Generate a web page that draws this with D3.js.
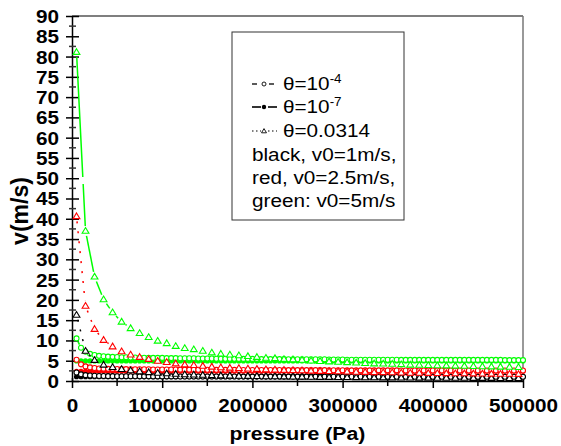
<!DOCTYPE html>
<html>
<head>
<meta charset="utf-8">
<script src="https://cdnjs.cloudflare.com/ajax/libs/d3/7.8.5/d3.min.js"></script>
<style>
  body { margin: 0; background: #fff; }
  svg { display: block; }
</style>
</head>
<body>
<svg id="chart"></svg>
<script>
// ---- data ----
// pressure grid in kPa for the circle / dot series
const pressureKPa = [5,10,15,20,25,30,35,40,45,50,55,60,65,70,75,80,85,90,95,100,
  105,110,115,120,125,130,135,140,145,150,155,160,165,170,175,180,185,190,195,200,
  205,210,215,220,225,230,235,240,245,250,255,260,265,270,275,280,285,290,295,300,
  305,310,315,320,325,330,335,340,345,350,355,360,365,370,375,380,385,390,395,400,
  405,410,415,420,425,430,435,440,445,450,455,460,465,470,475,480,485,490,495,500];
// pressure grid in kPa for the triangle series
const pressureTriKPa = [5,15,25,35,45,55,65,75,85,95,105,115,125,135,145,155,165,175,185,195,
  205,215,225,235,245,255,265,275,285,295,305,315,325,335,345,355,365,375,385,395,
  405,415,425,435,445,455,465,475,485,495];

// theta = 1e-7 (filled dots, solid line)
const vBlackFilled = [1.05,1.05,1.05,1.05,1.05,1.05,1.05,1.05,1.05,1.05,1.05,1.05,1.05,1.05,1.05,1.05,1.05,1.05,1.05,1.05,
  1.05,1.05,1.05,1.05,1.05,1.05,1.05,1.05,1.05,1.05,1.05,1.05,1.05,1.05,1.05,1.05,1.05,1.05,1.05,1.05,
  1.05,1.05,1.05,1.05,1.05,1.05,1.05,1.05,1.05,1.05,1.05,1.05,1.05,1.05,1.05,1.05,1.05,1.05,1.05,1.05,
  1.05,1.05,1.05,1.05,1.05,1.05,1.05,1.05,1.05,1.05,1.05,1.05,1.05,1.05,1.05,1.05,1.05,1.05,1.05,1.05,
  1.05,1.05,1.05,1.05,1.05,1.05,1.05,1.05,1.05,1.05,1.05,1.05,1.05,1.05,1.05,1.05,1.05,1.05,1.05,1.05];
const vRedFilled = [2.4,2.4,2.4,2.4,2.4,2.4,2.4,2.4,2.4,2.4,2.4,2.4,2.4,2.4,2.4,2.4,2.4,2.4,2.4,2.4,
  2.4,2.4,2.4,2.4,2.4,2.4,2.4,2.4,2.4,2.4,2.4,2.4,2.4,2.4,2.4,2.4,2.4,2.4,2.4,2.4,
  2.4,2.4,2.4,2.4,2.4,2.4,2.4,2.4,2.4,2.4,2.4,2.4,2.4,2.4,2.4,2.4,2.4,2.4,2.4,2.4,
  2.4,2.4,2.4,2.4,2.4,2.4,2.4,2.4,2.4,2.4,2.4,2.4,2.4,2.4,2.4,2.4,2.4,2.4,2.4,2.4,
  2.4,2.4,2.4,2.4,2.4,2.4,2.4,2.4,2.4,2.4,2.4,2.4,2.4,2.4,2.4,2.4,2.4,2.4,2.4,2.4];
const vGreenFilled = [4.95,4.95,4.95,4.95,4.95,4.95,4.95,4.95,4.95,4.95,4.95,4.95,4.95,4.95,4.95,4.95,4.95,4.95,4.95,4.95,
  4.95,4.95,4.95,4.95,4.95,4.95,4.95,4.95,4.95,4.95,4.95,4.95,4.95,4.95,4.95,4.95,4.95,4.95,4.95,4.95,
  4.95,4.95,4.95,4.95,4.95,4.95,4.95,4.95,4.95,4.95,4.95,4.95,4.95,4.95,4.95,4.95,4.95,4.95,4.95,4.95,
  4.95,4.95,4.95,4.95,4.95,4.95,4.95,4.95,4.95,4.95,4.95,4.95,4.95,4.95,4.95,4.95,4.95,4.95,4.95,4.95,
  4.95,4.95,4.95,4.95,4.95,4.95,4.95,4.95,4.95,4.95,4.95,4.95,4.95,4.95,4.95,4.95,4.95,4.95,4.95,4.95];

// theta = 1e-4 (open circles, dashed line)
const vBlackCircle = [2.1,1.64,1.44,1.34,1.28,1.24,1.22,1.2,1.19,1.18,
  1.17,1.17,1.16,1.16,1.15,1.15,1.15,1.14,1.14,1.14,
  1.13,1.13,1.13,1.12,1.12,1.12,1.12,1.11,1.11,1.11,
  1.11,1.1,1.1,1.1,1.1,1.1,1.09,1.09,1.09,1.09,
  1.09,1.08,1.08,1.08,1.08,1.08,1.08,1.07,1.07,1.07,
  1.07,1.07,1.07,1.07,1.07,1.07,1.06,1.06,1.06,1.06,
  1.05,1.05,1.05,1.05,1.05,1.05,1.05,1.05,1.05,1.05,
  1.05,1.05,1.04,1.04,1.04,1.04,1.04,1.04,1.04,1.04,
  1.04,1.04,1.04,1.04,1.04,1.04,1.04,1.04,1.04,1.04,
  1.04,1.04,1.04,1.04,1.04,1.03,1.03,1.03,1.03,1.03];
const vRedCircle = [5.25,4.1,3.6,3.35,3.2,3.1,3.05,3.0,2.98,2.95,
  2.93,2.93,2.9,2.9,2.88,2.88,2.88,2.85,2.85,2.85,
  2.83,2.83,2.83,2.8,2.8,2.8,2.8,2.78,2.78,2.78,
  2.78,2.75,2.75,2.75,2.75,2.75,2.73,2.73,2.73,2.73,
  2.73,2.7,2.7,2.7,2.7,2.7,2.7,2.68,2.68,2.68,
  2.68,2.68,2.68,2.68,2.68,2.68,2.65,2.65,2.65,2.65,
  2.63,2.63,2.63,2.63,2.63,2.63,2.63,2.63,2.63,2.63,
  2.63,2.63,2.6,2.6,2.6,2.6,2.6,2.6,2.6,2.6,
  2.6,2.6,2.6,2.6,2.6,2.6,2.6,2.6,2.6,2.6,
  2.6,2.6,2.6,2.6,2.6,2.58,2.58,2.58,2.58,2.58];
const vGreenCircle = [10.5,8.2,7.2,6.7,6.4,6.2,6.1,6.0,5.95,5.9,
  5.85,5.85,5.8,5.8,5.75,5.75,5.75,5.7,5.7,5.7,
  5.65,5.65,5.65,5.6,5.6,5.6,5.6,5.55,5.55,5.55,
  5.55,5.5,5.5,5.5,5.5,5.5,5.45,5.45,5.45,5.45,
  5.45,5.4,5.4,5.4,5.4,5.4,5.4,5.35,5.35,5.35,
  5.35,5.35,5.35,5.35,5.35,5.35,5.3,5.3,5.3,5.3,
  5.25,5.25,5.25,5.25,5.25,5.25,5.25,5.25,5.25,5.25,
  5.25,5.25,5.2,5.2,5.2,5.2,5.2,5.2,5.2,5.2,
  5.2,5.2,5.2,5.2,5.2,5.2,5.2,5.2,5.2,5.2,
  5.2,5.2,5.2,5.2,5.2,5.15,5.15,5.15,5.15,5.15];

// theta = 0.0314 (open triangles, dotted line)
const vBlackTri = [16.3,7.4,5.15,4.0,3.4,2.9,2.6,2.35,2.15,2.0,
  1.85,1.72,1.62,1.56,1.48,1.4,1.34,1.3,1.26,1.22,
  1.18,1.14,1.12,1.08,1.06,1.04,1.0,0.98,0.96,0.94,
  0.92,0.9,0.88,0.86,0.85,0.84,0.82,0.8,0.79,0.78,
  0.77,0.76,0.75,0.74,0.73,0.72,0.71,0.7,0.69,0.68];
const vRedTri = [40.6,18.5,12.8,10.1,8.5,7.3,6.5,5.9,5.4,4.95,
  4.65,4.3,4.05,3.9,3.7,3.5,3.35,3.25,3.15,3.05,
  2.95,2.85,2.8,2.7,2.65,2.6,2.5,2.45,2.4,2.35,
  2.3,2.25,2.2,2.15,2.13,2.1,2.05,2.0,1.98,1.95,
  1.93,1.9,1.88,1.85,1.83,1.8,1.78,1.75,1.73,1.7];
const vGreenTri = [81.1,37.0,25.7,20.1,16.9,14.6,13.0,11.8,10.8,9.9,
  9.3,8.6,8.1,7.8,7.4,7.0,6.7,6.5,6.3,6.1,
  5.9,5.7,5.6,5.4,5.3,5.2,5.0,4.9,4.8,4.7,
  4.6,4.5,4.4,4.3,4.25,4.2,4.1,4.0,3.95,3.9,
  3.85,3.8,3.75,3.7,3.65,3.6,3.55,3.5,3.45,3.4];

// ticks
const xTicks = [0,100000,200000,300000,400000,500000];
const xMinor = [50000,150000,250000,350000,450000];
const yTicks = [0,5,10,15,20,25,30,35,40,45,50,55,60,65,70,75,80,85,90];
const yMinor = [2.5,7.5,12.5,17.5,22.5,27.5,32.5,37.5,42.5,47.5,52.5,57.5,62.5,67.5,72.5,77.5,82.5,87.5];

// legend text
const legendThetas = [["θ=10", "-4"], ["θ=10", "-7"], ["θ=0.0314", ""]];
const legendNotes = ["black, v0=1m/s,", "red, v0=2.5m/s,", "green: v0=5m/s"];

// ---- layout ----
const width = 561, height = 446;
const margin = { top: 16, right: 38, bottom: 65, left: 72 };
const innerW = width - margin.left - margin.right;
const innerH = height - margin.top - margin.bottom;
const sx = 1.12; // the original's lettering is a bit wide
const font = "Arial, 'Liberation Sans', Helvetica, sans-serif";
const BLACK = "#000000", RED = "#ff0000", GREEN = "#00ff00";

const x = d3.scaleLinear().domain([0, 500000]).range([0, innerW]);
const y = d3.scaleLinear().domain([0, 90]).range([innerH, 0]);

const svg = d3.select("#chart").attr("width", width).attr("height", height);
svg.append("rect").attr("width", width).attr("height", height).attr("fill", "#fff");

const g = svg.append("g").attr("transform", `translate(${margin.left},${margin.top})`);

// top / right frame
g.append("line").attr("x1", 0).attr("x2", innerW).attr("y1", 0).attr("y2", 0)
  .attr("stroke", "#555").attr("stroke-width", 1.5);
g.append("line").attr("x1", innerW).attr("x2", innerW).attr("y1", 0).attr("y2", innerH)
  .attr("stroke", "#777").attr("stroke-width", 1.5);

// X axis
const xAxis = g.append("g")
  .attr("transform", `translate(0,${innerH})`)
  .call(d3.axisBottom(x).tickValues(xTicks).tickSizeOuter(0).tickFormat(d3.format("d")))
  .attr("font-family", font).attr("font-size", 18.5).attr("font-weight", "bold");
xAxis.select(".domain").attr("stroke-width", 1.5);
xAxis.selectAll(".tick line").attr("y1", -3).attr("y2", 7).attr("stroke-width", 1.5);
xAxis.selectAll(".tick text").attr("y", 31).attr("dy", null)
  .attr("transform", `scale(${sx},1)`).attr("fill", "#000");
g.append("g").selectAll("line").data(xMinor).join("line")
  .attr("x1", (d) => x(d)).attr("x2", (d) => x(d))
  .attr("y1", innerH - 2).attr("y2", innerH + 5)
  .attr("stroke", "#000").attr("stroke-width", 1.5);

// Y axis
const yAxis = g.append("g")
  .call(d3.axisLeft(y).tickValues(yTicks).tickSizeOuter(0))
  .attr("font-family", font).attr("font-size", 18.5).attr("font-weight", "bold");
yAxis.select(".domain").attr("stroke-width", 1.5);
yAxis.selectAll(".tick line").attr("x1", -6).attr("x2", 7).attr("stroke-width", 1.5);
yAxis.selectAll(".tick text").attr("x", -13 / sx).attr("dy", "0.35em")
  .attr("transform", `scale(${sx},1)`).attr("fill", "#000");
g.append("g").selectAll("line").data(yMinor).join("line")
  .attr("x1", -3).attr("x2", 4)
  .attr("y1", (d) => y(d)).attr("y2", (d) => y(d))
  .attr("stroke", "#333").attr("stroke-width", 1.5);

// axis titles
svg.append("text")
  .attr("transform", `translate(${margin.left + innerW / 2},440) scale(${sx},1)`)
  .attr("text-anchor", "middle").attr("font-family", font)
  .attr("font-size", 19).attr("font-weight", "bold")
  .text("pressure (Pa)");
svg.append("text")
  .attr("transform", "translate(28,211) rotate(-90)")
  .attr("text-anchor", "middle").attr("font-family", font)
  .attr("font-size", 23).attr("font-weight", "bold")
  .text("v(m/s)");

// ---- series ----
const triPath = "M0,-3.4L3.4,2.3L-3.4,2.3Z";

function toPoints(pk, vs) {
  return pk.map((p, i) => ({ px: x(p * 1000), py: y(vs[i]) }));
}

// line pieces between markers, leaving a small gap round each marker
function drawSegments(pts, color, dash, gap) {
  const segs = d3.pairs(pts).map(([a, b]) => {
    const dx = b.px - a.px, dy = b.py - a.py;
    const len = Math.hypot(dx, dy);
    return { a, b, len, ux: dx / len, uy: dy / len };
  }).filter((s) => s.len > 2 * gap + 1);
  g.append("g").selectAll("line").data(segs).join("line")
    .attr("x1", (s) => s.a.px + s.ux * gap).attr("y1", (s) => s.a.py + s.uy * gap)
    .attr("x2", (s) => s.b.px - s.ux * gap).attr("y2", (s) => s.b.py - s.uy * gap)
    .attr("stroke", color).attr("stroke-width", 1.5)
    .attr("stroke-dasharray", dash);
}

const filledSeries = [[vBlackFilled, BLACK], [vRedFilled, RED], [vGreenFilled, GREEN]];
const circleSeries = [[vBlackCircle, BLACK], [vRedCircle, RED], [vGreenCircle, GREEN]];
const triSeries = [[vBlackTri, BLACK, "2,8"], [vRedTri, RED, "2,8"], [vGreenTri, GREEN, "120,7"]];

// theta = 1e-7
filledSeries.forEach(([vs, color]) => {
  const pts = toPoints(pressureKPa, vs);
  g.append("path").datum(pts)
    .attr("d", d3.line().x((d) => d.px).y((d) => d.py))
    .attr("fill", "none").attr("stroke", color).attr("stroke-width", 1.5);
  g.append("g").selectAll("circle").data(pts).join("circle")
    .attr("cx", (d) => d.px).attr("cy", (d) => d.py).attr("r", 2.6)
    .attr("fill", color);
});

// theta = 1e-4
circleSeries.forEach(([vs, color]) => {
  const pts = toPoints(pressureKPa, vs);
  drawSegments(pts, color, "6,4", 3.5);
  g.append("g").selectAll("circle").data(pts).join("circle")
    .attr("cx", (d) => d.px).attr("cy", (d) => d.py).attr("r", 2.5)
    .attr("fill", "#fff").attr("stroke", color).attr("stroke-width", 1.1);
});

// theta = 0.0314
triSeries.forEach(([vs, color, dash]) => {
  const pts = toPoints(pressureTriKPa, vs);
  drawSegments(pts, color, dash, 5);
  g.append("g").selectAll("path").data(pts).join("path")
    .attr("transform", (d) => `translate(${d.px},${d.py})`)
    .attr("d", triPath)
    .attr("fill", "#fff").attr("stroke", color).attr("stroke-width", 1.1);
});

// ---- legend ----
const legend = svg.append("g");
legend.append("rect")
  .attr("x", 232).attr("y", 32).attr("width", 172).attr("height", 188)
  .attr("fill", "#fff").attr("stroke", "#333").attr("stroke-width", 1);

const rowBase = [90, 113, 137];
const symbolStyles = [
  { dash: "5,3", marker: "circle" },
  { dash: null, marker: "dot" },
  { dash: "1.5,2.5", marker: "triangle" }
];
legendThetas.forEach((lab, i) => {
  const cy = rowBase[i] - 6;
  const st = symbolStyles[i];
  if (i === 0) {
    legend.append("line").attr("x1", 252).attr("x2", 257).attr("y1", cy).attr("y2", cy)
      .attr("stroke", "#000").attr("stroke-width", 1.3);
    legend.append("line").attr("x1", 269).attr("x2", 274).attr("y1", cy).attr("y2", cy)
      .attr("stroke", "#000").attr("stroke-width", 1.3);
  } else {
    [[252, 261], [268, 277]].forEach(([a, b]) => {
      legend.append("line").attr("x1", a).attr("x2", b).attr("y1", cy).attr("y2", cy)
        .attr("stroke", "#000").attr("stroke-width", st.dash ? 1.2 : 1.6)
        .attr("stroke-dasharray", st.dash);
    });
  }
  if (st.marker === "circle") {
    legend.append("circle").attr("cx", 264).attr("cy", cy).attr("r", 2)
      .attr("fill", "#fff").attr("stroke", "#000").attr("stroke-width", 0.9);
  } else if (st.marker === "dot") {
    legend.append("circle").attr("cx", 264).attr("cy", cy).attr("r", 2.2).attr("fill", "#000");
  } else {
    legend.append("path").attr("transform", `translate(264,${cy})`)
      .attr("d", "M0,-2.4L2.5,1.8L-2.5,1.8Z")
      .attr("fill", "#fff").attr("stroke", "#000").attr("stroke-width", 0.9);
  }
  const t = legend.append("text")
    .attr("transform", `translate(283,${rowBase[i]}) scale(${sx},1)`)
    .attr("font-family", font).attr("font-size", 18.5);
  t.append("tspan").text(lab[0]);
  if (lab[1]) t.append("tspan").attr("dy", -7).attr("font-size", 12).text(lab[1]);
});

legendNotes.forEach((txt, i) => {
  legend.append("text")
    .attr("transform", `translate(252,${161 + i * 23}) scale(${sx},1)`)
    .attr("font-family", font).attr("font-size", 18.5)
    .text(txt);
});
</script>
</body>
</html>
